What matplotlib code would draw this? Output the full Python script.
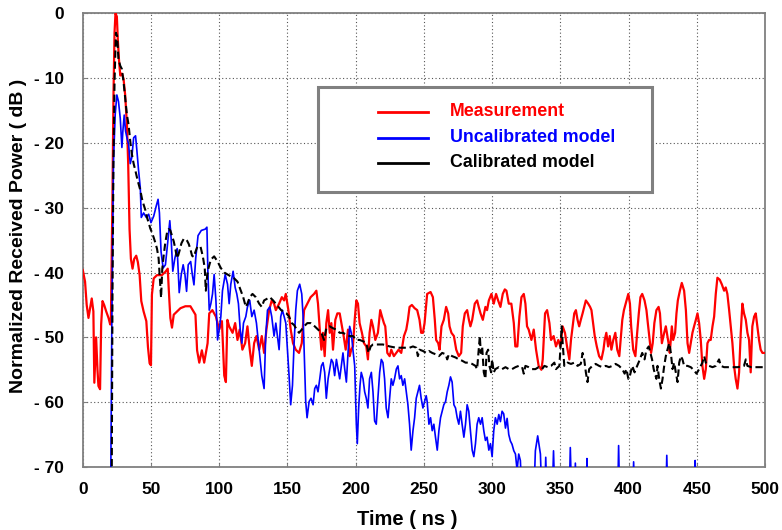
import matplotlib
matplotlib.use("Agg")
import matplotlib.pyplot as plt
from matplotlib.patches import Rectangle
from matplotlib.ticker import FixedLocator

# ---------------- data ----------------
meas_t = [0, 1.7, 2.9, 4.2, 5.4, 6.6, 7.8, 8.5, 9.8, 10.8, 11.5, 12.7, 13.5, 14.5, 15.7, 17.2, 18.9, 20.1,
          20.6, 21.8, 22.5, 23.3, 24.0, 25.0, 25.7, 26.5, 27.5, 28.7, 29.9, 31.1, 32.4, 33.3, 34.3, 35.3,
          36.5, 37.7, 39.2, 40.4, 41.7, 42.9, 44.6, 46.6, 47.8, 49.0, 50.0, 50.7, 52.0, 54.4, 58.0, 60.5,
          62.3, 63.0, 64.2, 65.4, 66.7, 69.1, 71.6, 75.2, 78.9, 82.6, 83.8, 85.4, 87.3, 89, 91.5, 92.7,
          95, 97.6, 100, 102, 103.7, 104.9, 106, 107.3, 109.8, 111.7, 113.4, 115, 117, 119, 120.7, 122.4,
          123.9, 125.6, 127.3, 129.3, 131.2, 132.9, 134.6, 136.6, 138.5, 140.2, 141.5, 143.9, 145.9, 147.6,
          148.8, 150.7, 152.4, 154.1, 156.1, 158.5, 160.5, 162.2, 164.6, 167, 169.5, 171.2, 172.4, 173.7,
          174.9, 176, 177.3, 178.5, 179.8, 181, 182.2, 183.4, 185.1, 186.6, 188.3, 190, 191.2, 192.7,
          194.4, 195.6, 196.8, 198, 199.3, 200.5, 201.7, 202.9, 204.6, 206.1, 207.8, 209, 210.2, 211.5,
          212.7, 214.4, 216.3, 218, 219.3, 220.7, 221.7, 223.2, 224.9, 226.1, 228, 229.8, 231.5, 233.4,
          235.4, 237.1, 238.3, 239.5, 241.2, 243.2, 245.1, 246.8, 248, 249.3, 250.5, 252.4, 254.9, 256.6,
          258, 259, 260.5, 261.5, 262.9, 264.6, 266.3, 267.8, 268.8, 270.2, 272, 273.7, 275.6, 277.3,
          278.5, 280, 281.7, 283, 284.1, 285.4, 287.3, 289, 290.2, 291.5, 293.2, 295.1, 296.3, 297.6,
          299.5, 301.2, 302.9, 304.4, 306.1, 307.8, 309.3, 310.5, 312.2, 314.1, 315.9, 317, 318.5, 320,
          321.5, 323.2, 324.4, 325.6, 326.8, 328.8, 330.5, 332.2, 334.1, 336.1, 337.1, 338.8, 340.3, 342,
          343.2, 345.1, 346.8, 348.5, 350, 351.7, 353.4, 354.9, 356.6, 357.8, 359, 360.2, 361.4, 362.6,
          363.8, 365, 366.3, 367.5, 368.7, 370.4, 371.8, 372.8, 374.3, 375.2, 376.7, 378.4, 380.1, 381.6,
          382.5, 383.7, 385, 386.2, 387.4, 388.8, 390.3, 391.7, 393.2, 394.2, 395.4, 396.6, 398.5, 399.8,
          401, 401.9, 403.4, 405, 406.3, 407.5, 408.7, 410, 411.7, 413.1, 414.1, 415.5, 416.5, 417.7,
          418.9, 420.4, 422, 423, 424.4, 426.1, 427.3, 429.3, 430.2, 431.7, 432.7, 434.1, 435.1, 436.1,
          437.6, 439, 440.7, 442, 443.2, 444.4, 445.6, 446.8, 448, 449.3, 450.5, 451.7, 452.9, 454.1,
          455.4, 456.6, 457.8, 459, 460.2, 461.5, 462.7, 463.9, 465.1, 466.8, 468.3, 470, 471.2, 472.4,
          473.7, 474.9, 476.1, 477.3, 478.5, 479.8, 481, 482.2, 483.4, 484.6, 485.9, 487.1, 488.3, 489.5,
          490.7, 492, 493.2, 494.4, 495.6, 496.8, 498.1, 500]
meas_db = [-39.6, -41.4, -45, -47, -45.5, -44, -46, -57, -50, -55, -57.5, -58, -48, -44.4, -45, -46, -47, -48,
           -48, -28, -13, -3, 0, -0.5, -4, -7, -9.6, -9.3, -10.1, -12.6, -17.2, -23.2, -33.3, -37.9,
           -39.4, -37.9, -37.4, -38.4, -40.4, -44.4, -46, -47.5, -51.5, -54, -54.3, -43.4, -40.9, -40.4, -40.4, -39.9,
           -39.4, -42.4, -47, -48.5, -46.5, -46, -45.5, -45.2, -45.2, -46.5, -52, -53.9, -52, -53.9, -50.9, -46.3,
           -45.8, -46.8, -48.8, -47.5, -55.9, -56.9, -47.3, -48.3, -49.3, -47.8, -50.4, -48.8, -51.9, -50.9, -48.3, -51.9,
           -54.4, -50.9, -49.8, -51.9, -49.8, -52.4, -48.8, -45.8, -44.3, -44.8, -45.8, -44.8, -43.8, -44.3,
           -43.3, -45.8, -48.8, -50.9, -51.9, -52.4, -50.9, -45.8, -44.8, -43.8, -43.3, -42.8, -44.8, -48.8,
           -51.9, -49.3, -52.9, -47.8, -45.8, -49.3, -47.8, -51.9, -47.3, -46.3, -46.3, -48.3, -49.8, -51.9,
           -48.8, -52.9, -51.9, -51.4, -47.3, -44.3, -44.8, -47.8, -49.3, -50.9, -51.4, -53.4, -49.3, -47.3,
           -48.3, -50.4, -49.3, -45.8, -46.8, -47.8, -48.3, -52.4, -52.9, -51.9, -52.9, -52.4, -51.9, -52.4,
           -49.8, -48.8, -47.3, -45.3, -45, -45.5, -45.8, -47.3, -49.3, -49.3, -47.8, -43.3, -43, -43.8,
           -47.3, -50.4, -50.9, -51.9, -48.3, -47.3, -45.3, -46.3, -48.3, -49.3, -49.8, -51.9, -52.9, -52.4,
           -48.3, -46.3, -45.8, -47.3, -48.3, -47.3, -44.8, -44.3, -45.3, -46.3, -47.3, -45.3, -45.8, -44.3,
           -43.3, -44.8, -43.3, -44.3, -45.3, -43.3, -42.6, -42.8, -44.8, -44.8, -47.8, -51.4, -51.4, -46.8,
           -43.8, -43.3, -44.8, -48.3, -48.8, -50.4, -48.8, -51.9, -54.4, -55, -53.4, -46.3, -45.8, -47.8,
           -50.4, -49.8, -51.4, -50.4, -51.4, -48.3, -49.3, -51.4, -53.4, -50.4, -48.3, -46.3, -45.8, -47.3,
           -48.3, -47.3, -46.3, -45.3, -44.3, -44.8, -45.3, -45.8, -48.3, -49.8, -51.4, -52.9, -53.4, -51.9,
           -50.4, -49.3, -51.4, -49.8, -51.9, -50.4, -49.3, -51.9, -52.9, -50.4, -47.3, -45.8, -44.3, -43.3,
           -44.8, -48.3, -51.9, -52.9, -49.3, -46.3, -43.8, -43.3, -44.3, -45.8, -47.8, -50.4, -52.4, -50.9,
           -47.8, -45.8, -45.3, -46.3, -50.9, -49.3, -48.3, -50.9, -52.4, -48.3, -50.4, -49.3, -46.3, -44.3,
           -42.8, -41.6, -42.8, -45.8, -50.9, -52.4, -50.9, -49.3, -48.3, -47.3, -46.3, -47.8, -50.4, -54.4,
           -56.4, -54.9, -50.9, -50.4, -50.4, -48.3, -46.8, -43.3, -40.8, -41.1, -41.8, -42.8, -42.3, -43.3,
           -45.8, -48.3, -50.9, -54.4, -56.4, -57.9, -55.4, -49.3, -44.8, -46.3, -47.3, -49.3, -50.4, -55.4,
           -48.3, -46.8, -46.3, -48.3, -50.4, -51.9, -52.4, -52.4]

uncal_t = [20.5, 20.6, 21.3, 22.5, 23.8, 25.0, 26.2, 27.5, 28.7, 29.4, 30.4, 31.4, 32.4, 33.6, 34.8, 36.0,
           37.3, 38.7, 39.7, 40.9, 42.2, 42.9, 44.6, 46.6, 48.3, 50, 52, 53.9, 55.2, 56.2, 57.4, 58.9, 60.6,
           62.3, 63.8, 64.8, 66.0, 67.5, 69.2, 70.7, 72.2, 73.6, 74.9, 76.1, 77.3, 79.1, 80.3, 81.5, 82.8,
           84.5, 86.9, 89.8, 91, 91.7, 92.7, 93.9, 95.1, 96.3, 97.6, 98.8, 100, 101.2, 102.4, 104.4, 106.1,
           107.3, 108.5, 110.2, 111.7, 112.9, 114.1, 115.4, 116.6, 117.8, 119.5, 120.7, 122.4, 123.9, 125.6,
           127.3, 128.8, 129.8, 131.2, 132.9, 134.1, 135.4, 137.1, 138.5, 140.2, 141.5, 142.7, 143.9, 145.1,
           146.3, 147.6, 148.8, 150, 151.2, 152.4, 153.7, 154.9, 156.1, 157.3, 159, 160.5, 161.5, 162.4,
           163.4, 164.4, 165.9, 167.3, 168.8, 170, 171.2, 172.4, 173.7, 174.9, 176.1, 177.3, 178.5, 179.8,
           181, 182.2, 183.4, 184.6, 185.9, 187.1, 188.3, 189.5, 190.7, 192, 193.2, 194.4, 195.6, 196.8,
           198, 199.3, 200.5, 201.2, 202.2, 203.2, 204.1, 205.4, 206.6, 207.8, 209, 210.2, 211.5, 212.7,
           213.9, 215.1, 216.3, 217.6, 218.8, 220, 221.2, 222.4, 223.7, 224.9, 226.1, 227.3, 228.5, 229.8,
           231, 232.2, 233.4, 234.6, 235.9, 237.1, 238.3, 239.5, 240.7, 242, 243.2, 244.4, 245.6, 246.8,
           248, 249.3, 250.5, 251.7, 252.4, 253.7, 254.9, 256.1, 257.3, 258.5, 259.8, 261, 262.2, 263.4,
           264.6, 265.9, 267.1, 268.3, 269.5, 270.7, 272, 273.2, 274.4, 275.6, 276.8, 278, 279.3, 280.5,
           281.7, 282.9, 284.1, 285.4, 286.6, 287.8, 289, 290.2, 291.5, 292.7, 293.9, 295.1, 296.3, 297.6,
           298.8, 300, 301.2, 302.4, 303.7, 304.9, 306.1, 307.3, 308.5, 309.8, 311, 312.2, 313.4, 314.6,
           315.9, 317.1, 318.3, 319.5, 320.7, 322, 330.5, 331.7, 333.4, 335.4, 336.5, 338.5, 339.3, 340.2,
           344, 345, 346, 356.5, 357.3, 358.3, 360.5, 361, 361.8, 369, 369.5, 370.2, 392, 392.7, 393.5,
           403, 403.7, 404.5, 427.3, 428, 428.8, 448.2, 448.8, 449.4, 500]
uncal_db = [-75, -70, -48.5, -23, -15.6, -12.6, -13.6, -16.2, -20.7, -18.2, -15.7, -18.2, -19.2, -20.2, -23.2, -22.2,
            -19.2, -18.9, -21.2, -24.2, -27, -31.5, -30.8, -31.5, -31, -32.3, -31.3, -29.7, -28.7, -30.8, -36.8, -39.3, -38.8,
            -35.3, -32, -34.8, -39.8, -37.8, -36.3, -43.1, -40.3, -38.8, -40.3, -42.9, -38.8, -38.3, -40.3, -41.9, -37.8,
            -34.3, -33.5, -33.3, -33, -39.8, -45.8, -44.8, -43.3, -40.3, -44.3, -50.4, -48.8, -46.8, -42.8, -40.3, -41.8,
            -44.8, -41.8, -39.8, -42.3, -43.3, -44.8, -48.8, -50.9, -47.8, -46.8, -45.3, -44.3, -46.8, -45.8,
            -47.8, -50.9, -52.9, -55.9, -57.9, -49.8, -45.8, -45.3, -46.8, -49.8, -47.8, -49.8, -51.9, -46.8,
            -45.8, -46.8, -47.8, -51.9, -55.9, -60.4, -57.4, -50.9, -45.8, -42.8, -41.8, -43.3, -46.8, -52.9,
            -59.9, -62.4, -59.9, -59.4, -60.4, -57.9, -57.4, -58.4, -56.4, -54.4, -53.9, -55.4, -59.4, -56.4,
            -54.9, -53.4, -53.9, -55.9, -53.4, -54.9, -56.4, -54.4, -52.4, -54.9, -56.9, -52.4, -48.3, -49.3,
            -51.9, -54.4, -63.4, -66.4, -60.9, -57.4, -55.4, -56.4, -58.4, -59.4, -60.9, -56.4, -55.4, -58.4,
            -62.9, -63.4, -59.4, -55.4, -53.4, -53.9, -56.4, -60.9, -62.4, -59.4, -56.4, -57.4, -56.4, -54.9,
            -54.4, -56.4, -55.9, -57.4, -56.4, -58.4, -60.4, -63.4, -67.4, -64.4, -62.4, -59.4, -58.4, -57.4,
            -59.4, -60.9, -59.9, -59, -59.9, -63.4, -62.4, -64.4, -63.4, -65.4, -67.4, -64.4, -62.4, -61.4,
            -60.4, -59.9, -58.4, -57.4, -56.1, -56.9, -60.4, -60.9, -62.4, -63.4, -61.4, -63.4, -65.4, -63.4,
            -60.4, -61.4, -64.4, -67.4, -68.4, -66.4, -63.4, -62.4, -63.4, -62.4, -64.4, -65.9, -65.4, -67.4,
            -66.4, -68.4, -64.4, -62.4, -63.4, -61.9, -63, -61.4, -61.8, -64, -62.5, -65, -66, -66.5,
            -67.5, -68, -70.5, -68, -69, -75, -75, -67.5, -65.2, -68, -75, -75, -68.5, -75,
            -75, -67.5, -75, -75, -67, -75, -75, -69.4, -75, -75, -68.7, -75, -75, -66.7, -75,
            -75, -69.2, -75, -75, -68.2, -75, -75, -69, -75, -75]

cal_t = [21.2, 21.3, 21.8, 22.5, 23.3, 24.3, 25.2, 26.2, 27.5, 28.7, 29.9, 31.1, 32.4, 33.6, 34.8, 36.0,
         37.3, 38.5, 39.7, 40.9, 42.2, 43.4, 44.6, 45.8, 47.1, 48.3, 49.5, 50.7, 52.0, 53.2, 54.4, 55.6,
         56.9, 57.4, 58.3, 59.3, 60.5, 61.8, 63.0, 64.2, 65.4, 66.7, 67.9, 69.1, 69.9, 71.1, 72.3, 74.0,
         75.2, 76.5, 77.7, 78.9, 80.1, 81.4, 82.6, 84.0, 86.3, 88, 89.4, 90.2, 91.5, 93.9, 96.3, 98.8,
         101.2, 103.7, 106.1, 108.5, 111, 113.4, 115.9, 117.6, 119.5, 120.7, 122.4, 124.4, 126.8, 129.3,
         131.2, 132.9, 134.6, 137.1, 139.5, 141.5, 143.4, 145.4, 147.3, 149.3, 151.2, 153.2, 154.9, 156.8,
         158.5, 160.5, 162.2, 164.6, 167, 170, 172.4, 174.9, 176.8, 178.5, 181, 183.4, 185.9, 188.3,
         190.7, 193.2, 195.6, 198, 200.5, 202.9, 205.4, 207.8, 209.5, 211, 212.7, 215.1, 220, 224.9,
         229.8, 234.6, 239.5, 242, 244.4, 245.6, 246.8, 249.3, 251.7, 253.7, 256.1, 258.5, 261, 263.4,
         265.9, 267.1, 268.3, 270.7, 273.2, 275.6, 278, 280.5, 282.9, 285.4, 287.8, 289, 290.2, 291,
         291.7, 292.7, 293.9, 295.1, 295.9, 297.1, 298, 299.3, 300, 301.2, 302.4, 304.9, 307.3, 309.8,
         312.2, 314.6, 317.1, 319.5, 322, 323.2, 324.4, 326.8, 329.3, 331.7, 334.1, 336.6, 338.3, 340.8,
         343.2, 345.6, 346.8, 349.3, 351, 351.7, 352.9, 355.3, 357.8, 360.2, 362.6, 365, 366.3, 367.5,
         368.7, 369.9, 371.1, 373.5, 375.9, 378.4, 380.8, 383.3, 385.7, 388.1, 390.5, 393, 395.4, 397.1,
         398.5, 399.8, 401, 402.7, 404.4, 406.3, 408.3, 410, 411.7, 413.1, 414.8, 416, 417.2, 418.4,
         420.4, 421.2, 422.4, 423.7, 424.9, 426.1, 427.3, 428.5, 429.8, 431, 432.2, 433.4, 434.6, 435.9,
         437.1, 438.3, 439.5, 440.7, 443.2, 445.6, 448, 449.8, 451.7, 454.1, 455.4, 456.6, 459, 461.5,
         463.9, 465.1, 466.3, 467.6, 470, 475, 480, 484.6, 485.9, 487.1, 490, 495, 500]
cal_db = [-75, -70, -43.4, -23.2, -10.6, -3, -3.5, -7.1, -8.1, -8.6, -10.6, -13.1, -15.7, -17.2, -19.7, -21.7,
          -23.2, -24.2, -25.3, -26.3, -27.3, -28.6, -29.5, -30.3, -31.5, -32.3, -33.2, -33.8, -34.6, -35.4, -36.3, -37.8,
          -42.4, -43.9, -39.4, -37.4, -35.4, -33.8, -33.3, -33.5, -34.3, -35.2, -36.4, -37.8, -37.4, -36.5, -35.5, -34.8,
          -34.8, -35.1, -35.6, -36.4, -37.4, -37.6, -36.8, -36, -36, -37.5, -39.3, -42.8, -39.8, -38, -37.5, -38.3,
          -39.3, -40, -40.3, -40.6, -40.9, -41.4, -42.8, -43.8, -45.3, -44.8, -43.8, -43.3, -43.8, -44.8,
          -45.3, -44.3, -44.1, -43.8, -44.3, -44.8, -45.3, -45.8, -46.1, -46.3, -46.8, -47.8, -48.1, -48.8,
          -49.3, -48.8, -48.3, -47.8, -47.8, -48.3, -48.8, -49.3, -50.4, -48.6, -48.3, -48.6, -48.8, -49.3,
          -49.3, -49.6, -49.8, -49.8, -50.4, -50.4, -50.6, -50.9, -52.4, -51.4, -51.1, -51.1, -51.1, -51.4,
          -51.6, -51.6, -51.6, -51.4, -51.6, -52.9, -51.9, -52.1, -52.4, -52.1, -52.4, -52.6, -52.9, -52.4,
          -52.6, -53.4, -52.6, -52.9, -53.1, -53.4, -53.6, -53.9, -53.9, -54.1, -54.4, -54.9, -51.9, -49.8,
          -52.4, -51.4, -55.4, -56.4, -52.4, -51.9, -54.4, -55.4, -53.4, -55.4, -54.9, -54.6, -54.9, -54.6,
          -54.9, -54.9, -54.6, -54.4, -54.6, -55.6, -54.4, -54.6, -54.9, -54.9, -54.6, -54.9, -54.4, -54.6,
          -54.4, -53.9, -54.9, -54.4, -48.3, -50.9, -54.4, -53.9, -54.1, -53.9, -54.4, -54.1, -52.4, -53.4,
          -55.4, -56.9, -54.9, -54.4, -54.1, -54.4, -54.6, -54.4, -54.6, -54.4, -54.1, -54.4, -54.9, -55.6,
          -54.9, -56.4, -55.9, -54.4, -55.4, -54.4, -53.4, -52.4, -53.4, -51.9, -51.4, -52.4, -53.4, -54.9,
          -56.4, -54.4, -56.4, -57.9, -56.4, -54.4, -52.9, -51.9, -50.9, -52.4, -54.9, -53.9, -55.4, -56.9,
          -53.9, -52.9, -53.4, -54.4, -54.4, -54.6, -55.1, -55.6, -54.9, -53.9, -52.9, -53.9, -54.4, -54.6,
          -54.4, -53.9, -53.4, -54.4, -54.6, -54.6, -54.6, -54.4, -53.4, -54.4, -54.6, -54.6, -54.6]

x_ticks = [0, 50, 100, 150, 200, 250, 300, 350, 400, 450, 500]
y_ticks = [0, -10, -20, -30, -40, -50, -60, -70]
y_tick_labels = ['0', '- 10', '- 20', '- 30', '- 40', '- 50', '- 60', '- 70']
series_names = ['Measurement', 'Uncalibrated model', 'Calibrated model']
series_colors = ['#ff0000', '#0000ff', '#000000']

# ---------------- figure ----------------
plt.rcParams['font.family'] = ['Liberation Sans', 'DejaVu Sans']
fig = plt.figure(figsize=(7.82, 5.30), dpi=100)
ax = fig.add_axes([0.1058, 0.1189, 0.8725, 0.8560])

ax.plot(meas_t, meas_db, color=series_colors[0], lw=1.6, zorder=3)
ax.plot(uncal_t, uncal_db, color=series_colors[1], lw=1.2, zorder=4)
ax.plot(cal_t, cal_db, color=series_colors[2], lw=1.5, ls=(0, (3.5, 1.8)), zorder=5)

ax.set_xlim(0, 500)
ax.set_ylim(-70, 0)
ax.xaxis.set_major_locator(FixedLocator(x_ticks))
ax.yaxis.set_major_locator(FixedLocator(y_ticks))
ax.set_xticklabels([str(v) for v in x_ticks], fontsize=12.5, fontweight='bold')
ax.set_yticklabels(y_tick_labels, fontsize=12.5, fontweight='bold')
ax.tick_params(axis='both', direction='in', length=3, color='#808080')
ax.tick_params(axis='y', pad=13.5)
ax.tick_params(axis='x', pad=11)

ax.grid(True, color='#555555', linestyle=(0, (1, 2.2)), linewidth=0.8)
for s in ax.spines.values():
    s.set_color('#808080')
    s.set_linewidth(1.3)

ax.set_xlabel('Time ( ns )', fontsize=14.5, fontweight='bold')
ax.set_ylabel('Normalized Received Power ( dB )', fontsize=14, fontweight='bold')
ax.xaxis.set_label_coords(0.476, -0.095)
ax.yaxis.set_label_coords(-0.082, 0.51)

# legend box (drawn in axes coordinates)
ax.add_patch(Rectangle((0.345, 0.606), 0.489, 0.232, transform=ax.transAxes,
                       facecolor='white', edgecolor='#808080', linewidth=2.2, zorder=10))
rows_y = [0.7825, 0.7252, 0.6701]
for name, col, yy in zip(series_names, series_colors, rows_y):
    ax.plot([0.4328, 0.5061], [yy, yy], transform=ax.transAxes, color=col, lw=2.0, zorder=11)
    ax.text(0.5387, yy, name, transform=ax.transAxes, color=col, fontsize=12.8,
            fontweight='bold', va='center', ha='left', zorder=11)

fig.savefig('out.png', dpi=100)
